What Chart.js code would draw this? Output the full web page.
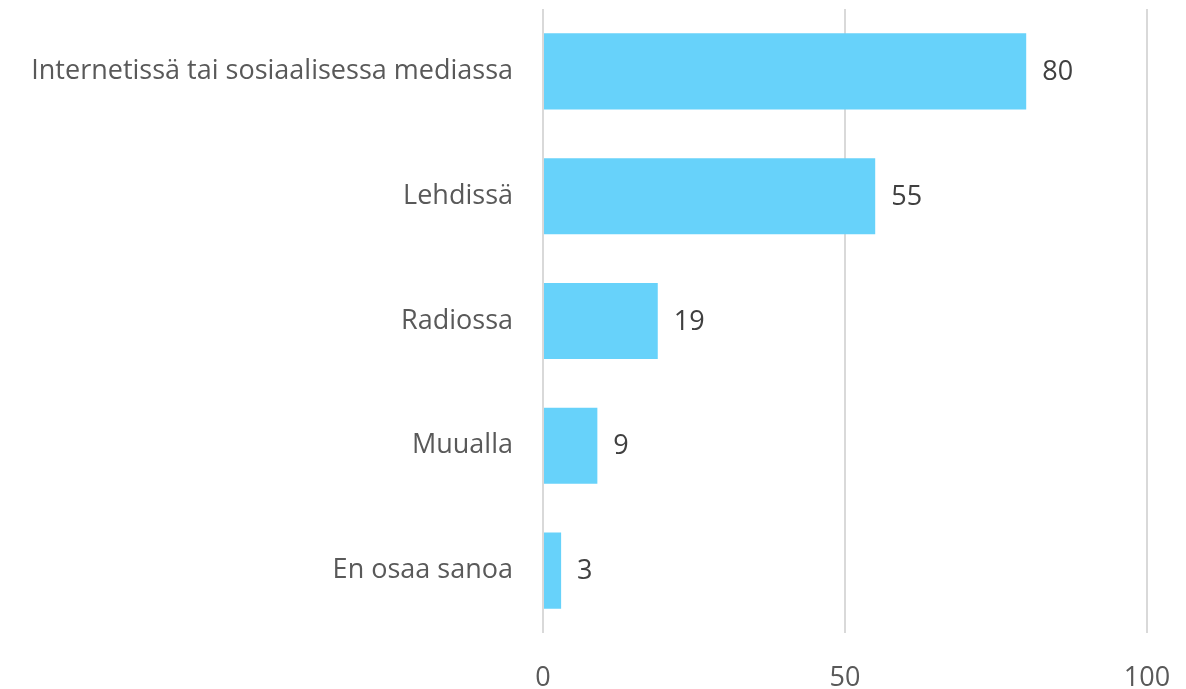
<!DOCTYPE html>
<html>
<head>
<meta charset="utf-8">
<script src="https://cdn.jsdelivr.net/npm/chart.js@4/dist/chart.umd.min.js"></script>
<style>
  html, body { margin: 0; padding: 0; background: #fff; }
  #wrap { width: 1186px; height: 689px; }
</style>
</head>
<body>
<div id="wrap"><canvas id="chart" width="1186" height="689"></canvas></div>
<script>
const categories = [
  "Internetissä tai sosiaalisessa mediassa",
  "Lehdissä",
  "Radiossa",
  "Muualla",
  "En osaa sanoa"
];
const values = [80, 55, 19, 9, 3];
const xTicks = [0, 50, 100];

const fontFamily = "'Open Sans', 'Liberation Sans', sans-serif";

// draw the numbers at the end of each bar
const valueLabels = {
  id: "valueLabels",
  afterDatasetsDraw(chart) {
    const ctx = chart.ctx;
    const meta = chart.getDatasetMeta(0);
    ctx.save();
    ctx.font = "27px " + fontFamily;
    ctx.fillStyle = "#404040";
    ctx.textAlign = "left";
    ctx.textBaseline = "middle";
    meta.data.forEach((bar, i) => {
      ctx.fillText(String(values[i]), bar.x + 16, bar.y + 1);
    });
    ctx.restore();
  }
};

new Chart(document.getElementById("chart"), {
  type: "bar",
  data: {
    labels: categories,
    datasets: [{
      data: values,
      backgroundColor: "#67D2FA",
      borderWidth: 0,
      categoryPercentage: 1,
      barPercentage: 0.61
    }]
  },
  options: {
    indexAxis: "y",
    responsive: false,
    animation: false,
    layout: { padding: { top: 9, right: 39, left: 0, bottom: 0 } },
    plugins: {
      legend: { display: false },
      tooltip: { enabled: false }
    },
    scales: {
      x: {
        min: 0,
        max: 100,
        afterBuildTicks: s => { s.ticks = xTicks.map(v => ({ value: v })); },
        afterFit: s => {
          s.height = 56;
          s.paddingLeft = 0;
          s.paddingRight = 0;
        },
        grid: { color: "#d9d9d9", lineWidth: 2, drawTicks: false },
        border: { display: false },
        ticks: {
          color: "#595959",
          font: { family: fontFamily, size: 27 },
          padding: 29,
          maxRotation: 0
        }
      },
      y: {
        afterFit: s => {
          s.width = 543;
          s.paddingTop = 0;
          s.paddingBottom = 0;
        },
        grid: { display: false },
        border: { display: false },
        ticks: {
          color: "#595959",
          font: { family: fontFamily, size: 27 },
          padding: 22
        }
      }
    }
  },
  plugins: [valueLabels]
});
</script>
</body>
</html>
